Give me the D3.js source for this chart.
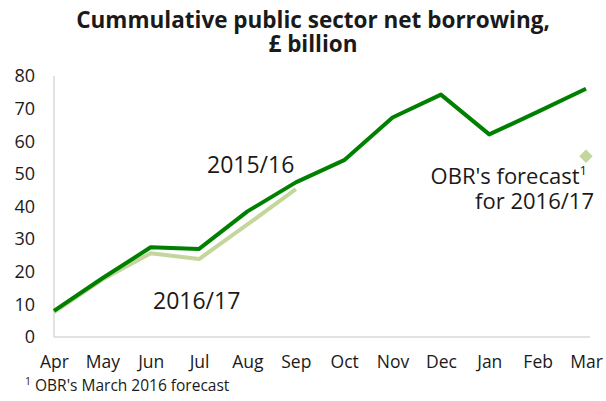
<!DOCTYPE html>
<html>
<head>
<meta charset="utf-8">
<script src="https://cdn.jsdelivr.net/npm/d3@7"></script>
<style>
  html, body { margin: 0; padding: 0; background: #fff; }
  svg text { font-family: "Open Sans", "Noto Sans", sans-serif; fill: #1a1a1a; }
</style>
</head>
<body>
<svg id="chart" width="606" height="401"></svg>
<script>
// Financial-year months
const months = ["Apr", "May", "Jun", "Jul", "Aug", "Sep", "Oct", "Nov", "Dec", "Jan", "Feb", "Mar"];
// Cumulative public sector net borrowing, £ billion
const borrowing2015 = [8, 18, 27.5, 27, 38.5, 47.4, 54.2, 67.3, 74.3, 62.1, 69, 76.1];
const borrowing2016 = [7.6, 17.6, 25.7, 23.9, 34.5, 45.3];
// OBR's March 2016 forecast for the full 2016/17 year
const forecastMonth = "Mar";
const forecastValue = 55.4;
const yTicks = [0, 10, 20, 30, 40, 50, 60, 70, 80];

const svg = d3.select("#chart");
const darkGreen = "#008000";
const lightGreen = "#c3d69b";

const x = d3.scalePoint().domain(months).range([54, 586]);
const y = d3.scaleLinear().domain([0, 80]).range([337, 76]);

// Title
const title = svg.append("text")
  .attr("text-anchor", "middle")
  .style("font-weight", "700").style("font-size", "22.5px");
title.append("tspan").attr("x", 313).attr("y", 28).text("Cummulative public sector net borrowing,");
title.append("tspan").attr("x", 313).attr("y", 52).text("£ billion");

// Axes
const yAxis = svg.append("g").attr("transform", "translate(54,0)")
  .call(d3.axisLeft(y).tickValues(yTicks).tickSize(0).tickPadding(19));
const xAxis = svg.append("g").attr("transform", "translate(0,337)")
  .call(d3.axisBottom(x).tickSize(0).tickPadding(19));
[yAxis, xAxis].forEach(g => {
  g.select(".domain").attr("stroke", "#d9d9d9").attr("stroke-width", 1.5);
  g.selectAll("text").style("font-size", "18px").attr("fill", "#1a1a1a");
});
xAxis.selectAll("text").style("font-size", "17.5px");
xAxis.select(".domain").attr("d", "M54,0H590");
yAxis.select(".domain").attr("d", "M0,76V337");

// Lines
const line = d3.line().x((d, i) => x(months[i])).y(d => y(d));
svg.append("path").datum(borrowing2016)
  .attr("fill", "none").attr("stroke", lightGreen).attr("stroke-width", 4)
  .attr("stroke-linejoin", "round").attr("d", line);
svg.append("path").datum(borrowing2015)
  .attr("fill", "none").attr("stroke", darkGreen).attr("stroke-width", 4)
  .attr("stroke-linejoin", "round").attr("d", line);

// Forecast marker
svg.append("path")
  .attr("d", d3.symbol(d3.symbolDiamond2, 115)())
  .attr("transform", `translate(${x(forecastMonth)},${y(forecastValue)})`)
  .attr("fill", lightGreen);

// Series labels
svg.append("text").attr("x", 207).attr("y", 173).style("font-size", "23px").text("2015/16");
svg.append("text").attr("x", 153).attr("y", 309).style("font-size", "23px").text("2016/17");

const obr = svg.append("text").attr("text-anchor", "end").style("font-size", "22px");
const l1 = obr.append("tspan").attr("x", 587).attr("y", 184).text("OBR's forecast");
l1.append("tspan").attr("dy", -9).style("font-size", "13px").text("1");
obr.append("tspan").attr("x", 594).attr("y", 209).text("for 2016/17");

// Footnote
const foot = svg.append("text").attr("x", 25).attr("y", 391).style("font-size", "15.5px");
foot.append("tspan").attr("dy", -6).style("font-size", "10.5px").text("1");
foot.append("tspan").attr("dy", 6).text(" OBR's March 2016 forecast");
</script>
</body>
</html>
